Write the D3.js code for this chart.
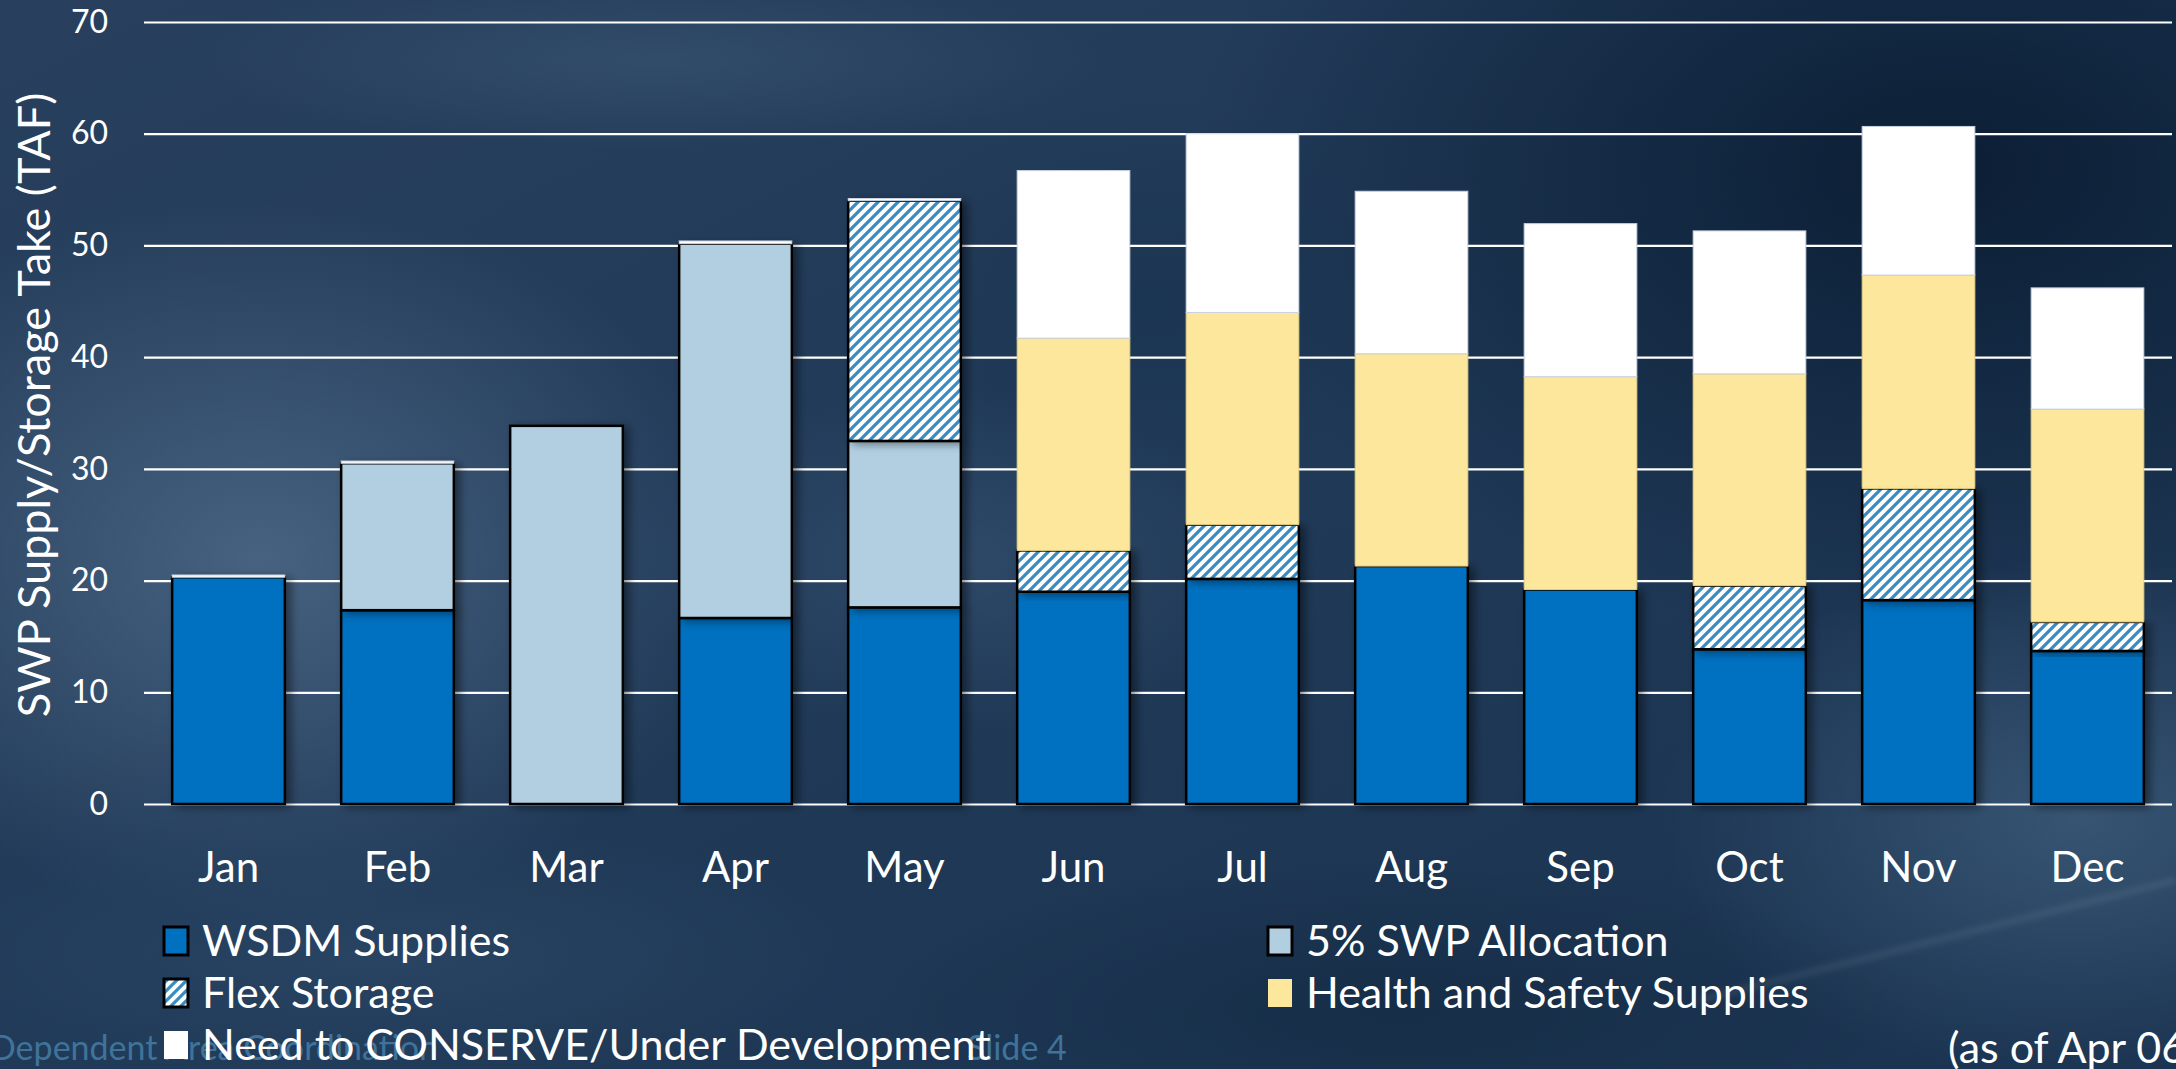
<!DOCTYPE html>
<html>
<head>
<meta charset="utf-8">
<script src="https://cdn.jsdelivr.net/npm/d3@7/dist/d3.min.js"></script>
<style>
  html, body { margin: 0; padding: 0; overflow: hidden; background: #1e3755; }
  svg { display: block; }
</style>
</head>
<body>
<div id="chart"></div>
<script>
// Chart values (TAF)
var months = ["Jan", "Feb", "Mar", "Apr", "May", "Jun", "Jul", "Aug", "Sep", "Oct", "Nov", "Dec"];
var wsdmSupplies = [20.3, 17.35, 0, 16.65, 17.6, 19.0, 20.15, 21.3, 19.2, 13.85, 18.25, 13.7];
var swpAllocation = [0, 13.15, 33.85, 33.5, 14.9, 0, 0, 0, 0, 0, 0, 0];
var flexStorage = [0, 0, 0, 0, 21.5, 3.7, 4.85, 0, 0, 5.7, 10.0, 2.6];
var healthSafety = [0, 0, 0, 0, 0, 19.0, 19.0, 19.0, 19.05, 18.95, 19.1, 19.05];
var needConserve = [0.2, 0.2, 0, 0.25, 0.2, 15.0, 16.0, 14.55, 13.7, 12.8, 13.3, 10.85];
var yTicks = [0, 10, 20, 30, 40, 50, 60, 70];
var seriesKeys = ["wsdm", "swp", "flex", "health", "conserve"];
var seriesLabels = ["WSDM Supplies", "5% SWP Allocation", "Flex Storage", "Health and Safety Supplies", "Need to CONSERVE/Under Development"];

var W = 2176, H = 1069;
var margin = { top: 22, right: 4, bottom: 265, left: 144 };
var font = "Lato, 'Open Sans', sans-serif";

// table for d3.stack
var table = months.map(function (m, i) {
	return { month: m, wsdm: wsdmSupplies[i], swp: swpAllocation[i], flex: flexStorage[i], health: healthSafety[i], conserve: needConserve[i] };
});

var svg = d3.select("#chart").append("svg")
	.attr("width", W)
	.attr("height", H);

var defs = svg.append("defs");

// hatch for flex storage
var hatch = defs.append("pattern")
	.attr("id", "hatch")
	.attr("patternUnits", "userSpaceOnUse")
	.attr("width", 10)
	.attr("height", 10);
hatch.append("rect").attr("width", 10).attr("height", 10).attr("fill", "#ffffff");
hatch.append("path")
	.attr("d", "M0,10 L10,0 M-2.5,2.5 L2.5,-2.5 M7.5,12.5 L12.5,7.5")
	.attr("stroke", "#3b8bc0")
	.attr("stroke-width", 3.2);

// soft shadow to the right of the outlined bars
var shadow = defs.append("filter")
	.attr("id", "shadow")
	.attr("x", "-10%").attr("y", "-10%")
	.attr("width", "130%").attr("height", "130%");
shadow.append("feDropShadow")
	.attr("dx", 5).attr("dy", 2)
	.attr("stdDeviation", 5)
	.attr("flood-color", "#000")
	.attr("flood-opacity", 0.45);

// cloudy slide background
var bgGrad = defs.append("linearGradient")
	.attr("id", "bgBase")
	.attr("x1", 0).attr("y1", 0).attr("x2", 1).attr("y2", 1);
bgGrad.append("stop").attr("offset", "0%").attr("stop-color", "#28405d");
bgGrad.append("stop").attr("offset", "45%").attr("stop-color", "#203a58");
bgGrad.append("stop").attr("offset", "100%").attr("stop-color", "#1a3350");

var blobs = [
	{ cx: 260, cy: 560, rx: 480, ry: 360, c: "#4d6987", o: 0.85 },
	{ cx: 1950, cy: 170, rx: 760, ry: 470, c: "#091b31", o: 0.9 },
	{ cx: 650, cy: 60, rx: 450, ry: 90, c: "#37536f", o: 0.7 },
	{ cx: 950, cy: 560, rx: 330, ry: 170, c: "#3b5776", o: 0.55 },
	{ cx: 2080, cy: 820, rx: 420, ry: 260, c: "#40607e", o: 0.75 },
	{ cx: 1400, cy: 1010, rx: 520, ry: 150, c: "#12283f", o: 0.6 },
	{ cx: 380, cy: 960, rx: 500, ry: 140, c: "#2f4c6a", o: 0.6 },
	{ cx: 1150, cy: 300, rx: 300, ry: 200, c: "#15304c", o: 0.5 }
];

blobs.forEach(function (b, i) {
	var g = defs.append("radialGradient").attr("id", "blob" + i);
	g.append("stop").attr("offset", "0%").attr("stop-color", b.c).attr("stop-opacity", b.o);
	g.append("stop").attr("offset", "100%").attr("stop-color", b.c).attr("stop-opacity", 0);
});

var bg = svg.append("g");
bg.append("rect").attr("width", W).attr("height", H).attr("fill", "url(#bgBase)");
bg.selectAll("ellipse.blob")
	.data(blobs)
	.enter().append("ellipse")
	.attr("class", "blob")
	.attr("cx", function (d) { return d.cx; })
	.attr("cy", function (d) { return d.cy; })
	.attr("rx", function (d) { return d.rx; })
	.attr("ry", function (d) { return d.ry; })
	.attr("fill", function (d, i) { return "url(#blob" + i + ")"; });

// faint light streak lower right
var streakBlur = defs.append("filter").attr("id", "streakBlur");
streakBlur.append("feGaussianBlur").attr("stdDeviation", 3);
bg.append("line")
	.attr("x1", 1700).attr("y1", 1000).attr("x2", 2176).attr("y2", 880)
	.attr("stroke", "#ffffff").attr("stroke-opacity", 0.1)
	.attr("stroke-width", 5)
	.attr("filter", "url(#streakBlur)");

// scales
var x = d3.scaleBand()
	.domain(months)
	.range([margin.left, W - margin.right])
	.paddingInner(1 / 3)
	.paddingOuter(1 / 6);

var y = d3.scaleLinear()
	.domain([0, 70])
	.range([H - margin.bottom, margin.top]);

// gridlines
var grid = svg.append("g")
	.attr("transform", "translate(" + margin.left + ",0)")
	.call(d3.axisLeft(y).tickValues(yTicks).tickSize(-(W - margin.right - margin.left)).tickFormat(""));
grid.select(".domain").remove();
grid.selectAll("line").attr("stroke", "#ffffff").attr("stroke-width", 2.2);

// y tick labels
var yAxis = svg.append("g")
	.attr("transform", "translate(108,0)")
	.call(d3.axisLeft(y).tickValues(yTicks).tickSize(0).tickPadding(0));
yAxis.select(".domain").remove();
yAxis.selectAll("text")
	.attr("fill", "#ffffff")
	.style("font-family", font)
	.style("font-size", "32px");

// x labels
var xAxis = svg.append("g")
	.attr("transform", "translate(0," + (H - margin.bottom) + ")")
	.call(d3.axisBottom(x).tickSize(0).tickPadding(48));
xAxis.select(".domain").remove();
xAxis.selectAll("text")
	.attr("fill", "#ffffff")
	.style("font-family", font)
	.style("font-size", "42px");

// y title
svg.append("text")
	.attr("transform", "translate(50," + ((margin.top + H - margin.bottom) / 2 - 8) + ") rotate(-90)")
	.attr("text-anchor", "middle")
	.attr("fill", "#ffffff")
	.style("font-family", font)
	.style("font-size", "45px")
	.text("SWP Supply/Storage Take (TAF)");

// bars
var fills = { wsdm: "#0070c0", swp: "#b2cfe2", flex: "url(#hatch)", health: "#fde79c", conserve: "#ffffff" };
var strokes = { wsdm: "#000000", swp: "#000000", flex: "#000000", health: "#e3cf86", conserve: "#c9d2e2" };
var strokeW = { wsdm: 2.5, swp: 2.5, flex: 2.5, health: 1, conserve: 1 };
var outlined = { wsdm: true, swp: true, flex: true, health: false, conserve: false };

var stacked = d3.stack().keys(seriesKeys)(table);

var layers = svg.selectAll("g.layer")
	.data(stacked)
	.enter().append("g")
	.attr("class", "layer");

layers.selectAll("rect")
	.data(function (d) { return d.map(function (p) { p.key = d.key; return p; }); })
	.enter().append("rect")
	.filter(function (d) { return d[1] - d[0] > 0; })
	.attr("x", function (d) { return x(d.data.month); })
	.attr("width", x.bandwidth())
	.attr("y", function (d) { return y(d[1]); })
	.attr("height", function (d) { return y(d[0]) - y(d[1]); })
	.attr("fill", function (d) { return fills[d.key]; })
	.attr("stroke", function (d) { return strokes[d.key]; })
	.attr("stroke-width", function (d) { return strokeW[d.key]; })
	.attr("filter", function (d) { return outlined[d.key] ? "url(#shadow)" : null; });

// slide footer (sits behind the legend, as on the slide)
svg.append("text")
	.attr("x", -10).attr("y", 1060)
	.attr("fill", "#3f7399")
	.style("font-family", font)
	.style("font-size", "34px")
	.text("Dependent Area Coordination");
svg.append("text")
	.attr("x", 967).attr("y", 1060)
	.attr("fill", "#3f7399")
	.style("font-family", font)
	.style("font-size", "34px")
	.text("Slide 4");

// legend
var legend = svg.selectAll("g.legend")
	.data(seriesKeys)
	.enter().append("g")
	.attr("class", "legend")
	.attr("transform", function (d, i) {
		var col = i % 2, row = Math.floor(i / 2);
		return "translate(" + (col ? 1268 : 164) + "," + (941 + row * 52) + ")";
	});

legend.append("rect")
	.attr("x", 0).attr("y", -14)
	.attr("width", 24).attr("height", 28)
	.attr("fill", function (d) { return fills[d]; })
	.attr("stroke", function (d) { return outlined[d] ? "#000" : "none"; })
	.attr("stroke-width", 3);

legend.append("text")
	.attr("x", 38).attr("y", 15)
	.attr("fill", "#ffffff")
	.style("font-family", font)
	.style("font-size", "43px")
	.text(function (d, i) { return seriesLabels[i]; });

svg.append("text")
	.attr("x", 1948).attr("y", 1063)
	.attr("fill", "#ffffff")
	.style("font-family", font)
	.style("font-size", "43px")
	.text("(as of Apr 06)");
</script>
</body>
</html>
